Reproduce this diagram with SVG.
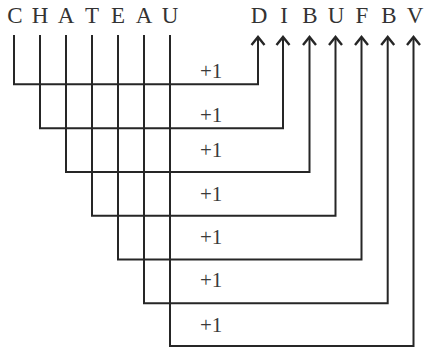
<svg xmlns="http://www.w3.org/2000/svg" width="425" height="349" viewBox="0 0 425 349">
<style>
  .ln { fill: none; stroke: #262626; stroke-width: 2; }
  .lt { font-family: "Liberation Serif", "Times New Roman", serif; font-size: 23px; fill: #333333; text-anchor: middle; }
  .pl { font-family: "Liberation Serif", "Times New Roman", serif; font-size: 21px; fill: #3a3a3a; }
</style>
<defs>
  <marker id="arr" markerUnits="userSpaceOnUse" orient="auto" refX="0" refY="0" markerWidth="20" markerHeight="20" viewBox="-10 -10 20 20" overflow="visible">
    <path d="M-8,-6.5 L0,0 L-8,6.5" fill="none" stroke="#262626" stroke-width="2.4"/>
  </marker>
</defs>
<rect width="425" height="349" fill="#ffffff"/>
<g id="source">
  <text class="lt" x="15" y="23">C</text>
  <text class="lt" x="40" y="23">H</text>
  <text class="lt" x="66" y="23">A</text>
  <text class="lt" x="92" y="23">T</text>
  <text class="lt" x="118" y="23">E</text>
  <text class="lt" x="144" y="23">A</text>
  <text class="lt" x="170" y="23">U</text>
</g>
<g id="target">
  <text class="lt" x="259" y="23">D</text>
  <text class="lt" x="284" y="23">I</text>
  <text class="lt" x="310" y="23">B</text>
  <text class="lt" x="336" y="23">U</text>
  <text class="lt" x="362" y="23">F</text>
  <text class="lt" x="389" y="23">B</text>
  <text class="lt" x="415" y="23">V</text>
</g>
<g id="connectors">
  <path class="ln" marker-end="url(#arr)" d="M14,35 V84.3 H258 V37"/>
  <path class="ln" marker-end="url(#arr)" d="M40,35 V128.3 H283 V37"/>
  <path class="ln" marker-end="url(#arr)" d="M66,35 V172 H309.5 V37"/>
  <path class="ln" marker-end="url(#arr)" d="M92,35 V215.7 H335.5 V37"/>
  <path class="ln" marker-end="url(#arr)" d="M118,35 V259.5 H361.5 V37"/>
  <path class="ln" marker-end="url(#arr)" d="M144,35 V303.3 H387.7 V37"/>
  <path class="ln" marker-end="url(#arr)" d="M170,35 V346 H413.5 V37"/>
</g>
<g id="labels">
  <text class="pl" x="200" y="77.7">+1</text>
  <text class="pl" x="200" y="121.7">+1</text>
  <text class="pl" x="200" y="157.3">+1</text>
  <text class="pl" x="200" y="201">+1</text>
  <text class="pl" x="200" y="244.3">+1</text>
  <text class="pl" x="200" y="286.7">+1</text>
  <text class="pl" x="200" y="331.7">+1</text>
</g>
</svg>
